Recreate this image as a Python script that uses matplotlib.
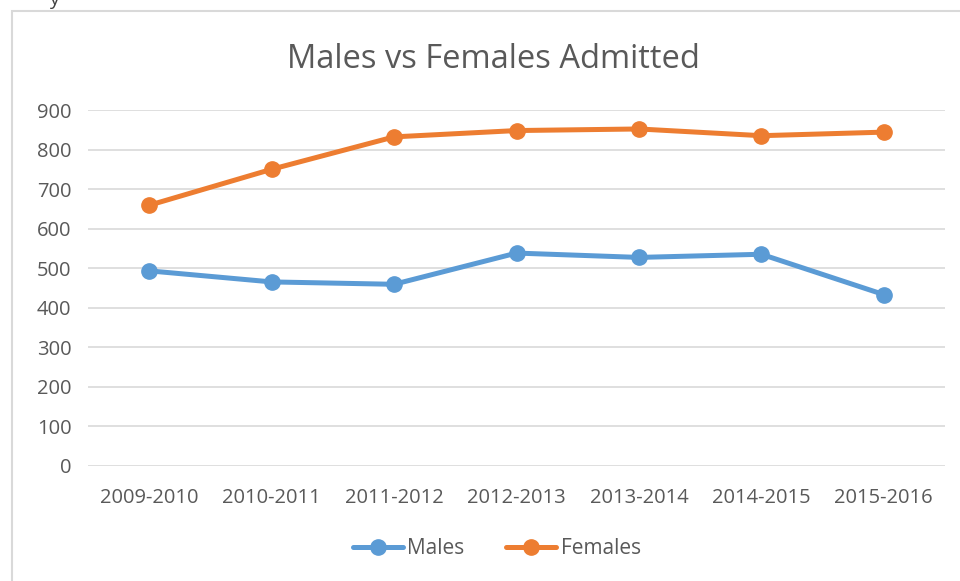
import matplotlib.pyplot as plt
from matplotlib.patches import Rectangle

years = ["2009-2010", "2010-2011", "2011-2012", "2012-2013",
         "2013-2014", "2014-2015", "2015-2016"]
males = [493, 465, 459, 538, 527, 535, 433]
females = [659, 750, 832, 848, 852, 835, 844]

W, H = 960, 581
fig = plt.figure(figsize=(W / 100, H / 100), dpi=100)
plt.rcParams['font.family'] = ['Open Sans', 'DejaVu Sans']

# chart frame (cut off on right and bottom like the screenshot)
fig.patches.append(Rectangle((12 / W, -0.1), 1.2, 1 - 11 / H + 0.1,
                             transform=fig.transFigure, fill=False,
                             edgecolor='#d9d9d9', linewidth=1.5))
fig.text(54 / W, 1.0, "y", fontsize=14, color='#404040', va='center', ha='center')

ax = fig.add_axes([88 / W, 1 - 465.7 / H, (945 - 88) / W, (465.7 - 110) / H])
x = list(range(len(years)))
ax.plot(x, males, color='#5B9BD5', lw=3.6, marker='o', ms=11, label='Males',
        solid_capstyle='round')
ax.plot(x, females, color='#ED7D31', lw=3.6, marker='o', ms=11, label='Females',
        solid_capstyle='round')

ax.set_xlim(-0.5, len(years) - 0.5)
ax.set_ylim(0, 900)
ax.set_yticks(range(0, 1000, 100))
ax.set_xticks(x)
ax.set_xticklabels(years)
ax.grid(axis='y', color='#d9d9d9', lw=1.2)
ax.set_axisbelow(True)
for s in ax.spines.values():
    s.set_visible(False)
ax.tick_params(length=0, labelsize=14.5, colors='#595959', pad=12)
ax.tick_params(axis='x', pad=16)

fig.text(493 / W, 1 - 59 / H, "Males vs Females Admitted", fontsize=23.5,
         color='#595959', ha='center', va='center')

leg = fig.legend(loc='center', bbox_to_anchor=(497 / W, 1 - 549 / H), ncol=2,
                 frameon=False, fontsize=15, handlelength=2.4,
                 columnspacing=2.0, handletextpad=0.2)
for t in leg.get_texts():
    t.set_color('#595959')

fig.savefig('out.png', dpi=100)
